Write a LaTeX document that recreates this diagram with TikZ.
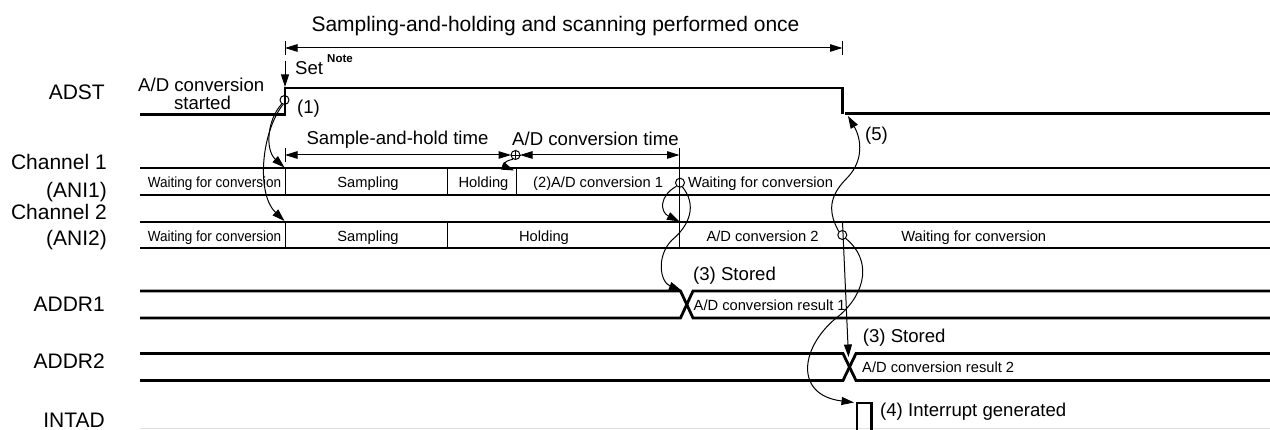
\documentclass[tikz,border=0pt]{standalone}
\usepackage{fontspec}
\usepackage{graphicx}
\setmainfont{Liberation Sans}
\usetikzlibrary{arrows.meta}
\begin{document}
\begin{tikzpicture}[x=1pt,y=-1pt,
  sig/.style={line width=2.8pt},
  fine/.style={line width=1pt},
  lbl/.style={font=\fontsize{21}{24}\selectfont, anchor=base east, inner sep=0pt},
  mid/.style={font=\fontsize{18.6}{22}\selectfont, anchor=base west, inner sep=0pt},
  sm/.style={font=\fontsize{14.7}{17}\selectfont, anchor=base, inner sep=0pt},
  arr/.style={-{Triangle[length=12.5pt,width=8pt]}, line width=1pt},
  dimline/.style={{Triangle[length=12.5pt,width=7.5pt]}-{Triangle[length=12.5pt,width=7.5pt]}, line width=1pt},
  ring/.style={circle, draw, line width=1pt, minimum size=9pt, inner sep=0pt},
]
\useasboundingbox (0,0) rectangle (1270,430);
\fill[white] (0,0) rectangle (1270,430);

% ---- left labels
\node[lbl] (lADST) at (105,100) {ADST};
\node[lbl] (lCh1) at (107,170) {Channel 1};
\node[lbl] (lANI1) at (107,198) {(ANI1)};
\node[lbl] (lCh2) at (107,220) {Channel 2};
\node[lbl] (lANI2) at (107,246) {(ANI2)};
\node[lbl] (lADDR1) at (105,312) {ADDR1};
\node[lbl] (lADDR2) at (105,369) {ADDR2};
\node[lbl] (lINTAD) at (105,428) {INTAD};

% ---- title dimension
\node[font=\fontsize{21}{24}\selectfont, anchor=base, inner sep=0pt] (title) at (555.5,32) {Sampling-and-holding and scanning performed once};
\coordinate (tL) at (285,48);
\coordinate (tR) at (842.5,48);
\draw[dimline] (tL) -- (tR);
\draw[fine] (285,41) -- (285,55);
\draw[fine] (842.5,41) -- (842.5,55);

% ---- Set arrow
\coordinate (setS) at (285,61);
\coordinate (setE) at (285,87);
\draw[arr] (setS) -- (setE);
\node[mid] (set) at (295,75) {Set};
\node[font=\bfseries\fontsize{11.5}{13}\selectfont, anchor=base west, inner sep=0pt] (note) at (327,63) {Note};

% ---- ADST signal
\draw[sig] (140,114.5) -- (285,114.5) -- (285,88) -- (842.5,88) -- (842.5,114);
\draw[sig] (845,113.5) -- (1270,113.5);
\node[mid] (start1) at (138,92) {A/D conversion};
\node[mid, anchor=base] (start2) at (202.5,110) {started};
\node[ring] (r1) at (284.5,100) {};
\node[mid] (n1) at (297,114) {(1)};

% ---- sample-and-hold / conversion dimensions
\node[mid, anchor=base] (shtxt) at (397.5,145) {Sample-and-hold time};
\node[mid] (adtxt) at (512,146) {A/D conversion time};
\coordinate (shL) at (285,155);
\coordinate (shR) at (511,155);
\coordinate (adL) at (520,155);
\coordinate (adR) at (679.5,155);
\draw[dimline] (shL) -- (shR);
\draw[dimline] (adL) -- (adR);
\draw[fine] (285,148) -- (285,162);
\node[ring] (r2) at (515.5,155) {};
\draw[line width=0.8pt] (r2.north) -- (r2.south) (r2.west) -- (r2.east);

% ---- Channel 1 bus
\draw[sig] (140,168) -- (1270,168);
\draw[sig] (140,195) -- (1270,195);
\draw[fine] (285,168) -- (285,195);
\draw[fine] (447.7,168) -- (447.7,195);
\draw[fine] (516,168) -- (516,195);
\draw[fine] (679.5,148) -- (679.5,248);
\node[sm] (c1w) at (214.5,188) {\scalebox{0.92}[1]{Waiting for conversion}};
\node[sm] (c1s) at (368,188) {Sampling};
\node[sm] (c1h) at (483.5,188) {Holding};
\node[sm, anchor=base west] (c1c) at (533,188) {(2)A/D conversion 1};
\node[sm, anchor=base west] (c1w2) at (688,188) {Waiting for conversion};
\node[ring] (r3) at (680,182.7) {};

% ---- Channel 2 bus
\draw[sig] (140,222) -- (1270,222);
\draw[sig] (140,248) -- (1270,248);
\draw[fine] (285,222) -- (285,248);
\draw[fine] (447.7,222) -- (447.7,248);
\node[sm] (c2w) at (214.5,242) {\scalebox{0.92}[1]{Waiting for conversion}};
\node[sm] (c2s) at (368,242) {Sampling};
\node[sm] (c2h) at (544,242) {Holding};
\node[sm] (c2c) at (762.5,242) {A/D conversion 2};
\node[sm] (c2w2) at (973.7,242) {Waiting for conversion};
\node[ring] (r4) at (842.3,235) {};

% ---- ADDR1
\draw[sig] (140,291) -- (680.5,291) -- (693,318) -- (1270,318);
\draw[sig] (140,318) -- (680.5,318) -- (693,291) -- (1270,291);
\node[mid] (st1) at (693,281) {(3) Stored};
\node[sm, anchor=base west] (res1) at (693.5,311) {A/D conversion result 1};

% ---- ADDR2
\draw[sig] (140,353.5) -- (843,353.5) -- (856,380.5) -- (1270,380.5);
\draw[sig] (140,380.5) -- (843,380.5) -- (856,353.5) -- (1270,353.5);
\node[mid] (st2) at (862.7,343) {(3) Stored};
\node[sm, anchor=base west] (res2) at (862,373) {A/D conversion result 2};

% ---- INTAD
\draw[gray!25, line width=1pt] (140,428.5) -- (1270,428.5);
\draw[sig] (857,431) -- (857,403) -- (871.5,403) -- (871.5,431);
\node[mid] (n4) at (880,417) {(4) Interrupt generated};
\node[mid] (n5) at (865,141) {(5)};

% ---- connectors
\coordinate (t1a) at (284.5,167.5);
\coordinate (t1b) at (284.5,221);
\draw[arr] (r1.235) .. controls (267,120) and (265,150) .. (t1a);
\draw[arr] (r1.250) .. controls (260,135) and (257,195) .. (t1b);

\coordinate (t2) at (514,170.5);
\draw[arr] (r2.240) .. controls (503,161) and (503,166) .. (t2);

\coordinate (t3a) at (679.5,221.5);
\coordinate (t3b) at (681.5,290.5);
\draw[arr] (r3.225) .. controls (659,196) and (660,212) .. (t3a);
\draw[arr] (r3.300) .. controls (697,205) and (690,225) .. (672,240) .. controls (656,256) and (660,282) .. (t3b);

\coordinate (a3s) at (842.5,222);
\coordinate (a3e) at (848.5,357);
\draw[arr] (a3s) -- (a3e);

\coordinate (t5) at (848,116);
\draw[arr] (r4.135) .. controls (825,207) and (833,192) .. (848,177) .. controls (863,161) and (862,140) .. (t5);

\coordinate (t4) at (854,402.5);
\draw[arr] (r4.-45) .. controls (872,260) and (866,292) .. (840,315) .. controls (800,345) and (793,395) .. (t4);
\end{tikzpicture}
\end{document}
